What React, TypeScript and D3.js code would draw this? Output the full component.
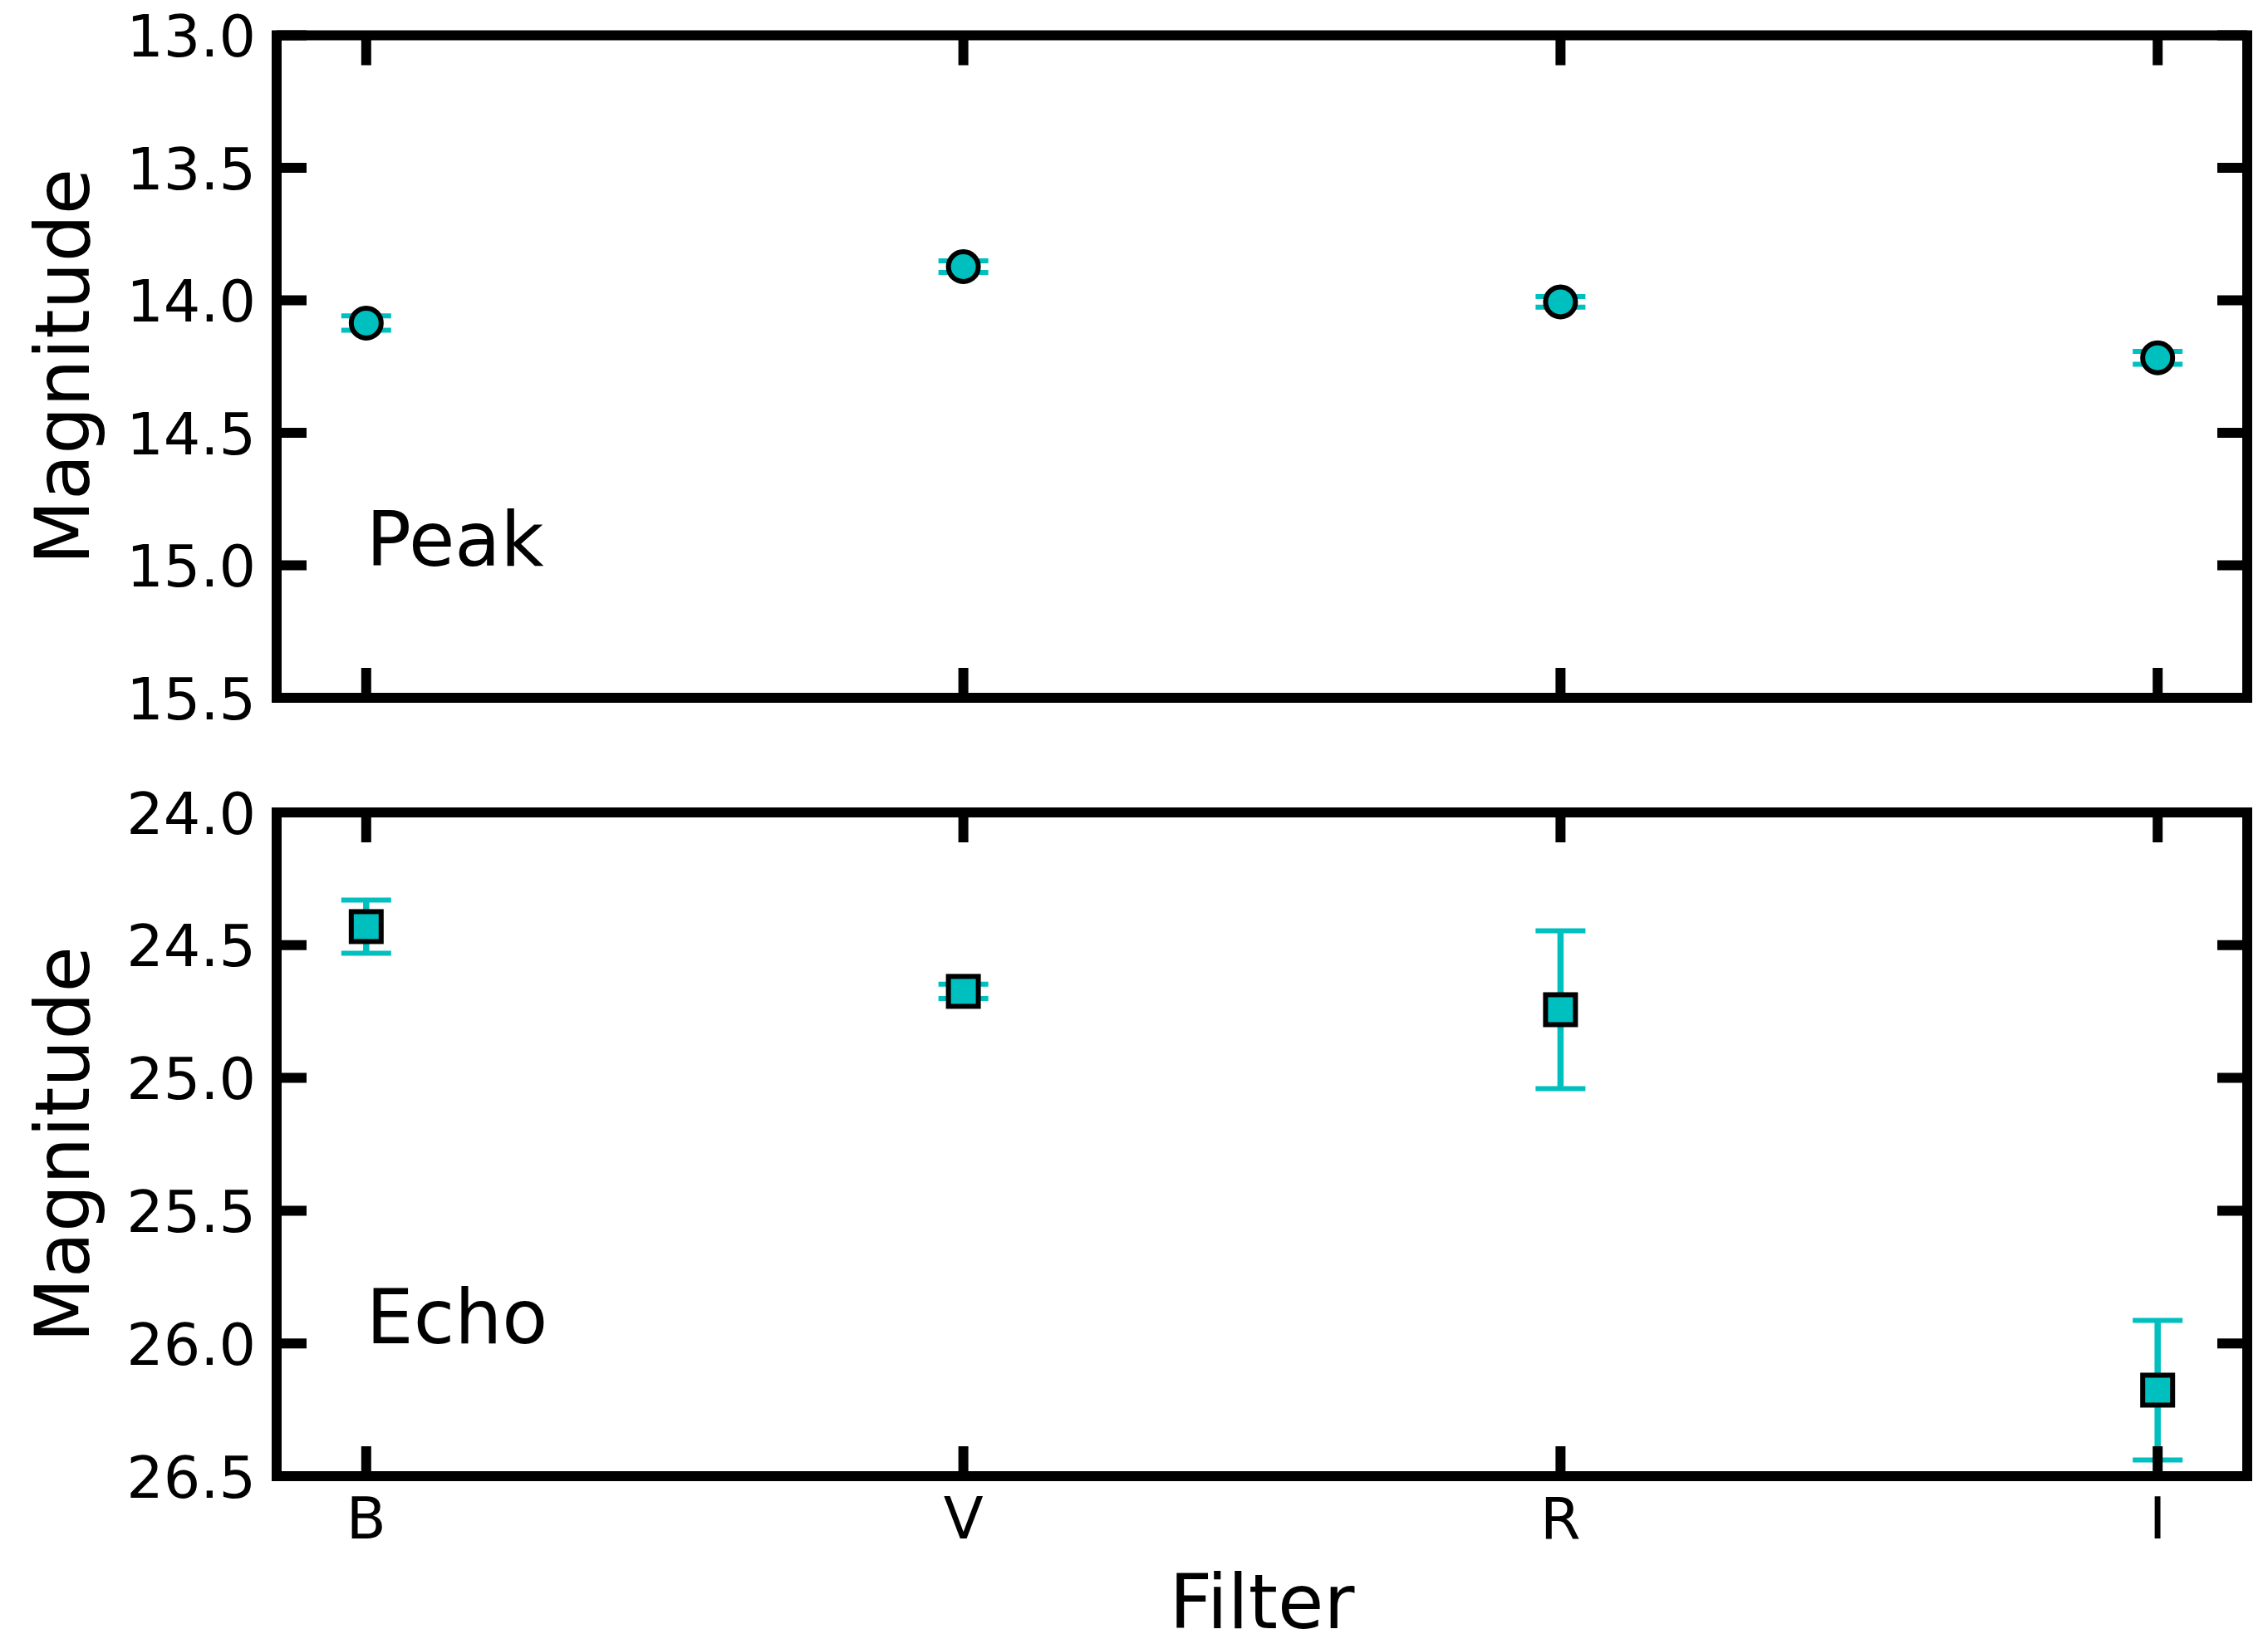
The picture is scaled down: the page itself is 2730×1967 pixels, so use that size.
import React, { useEffect, useRef } from 'react';
import * as d3 from 'd3';

// Filters along the x axis
const filters = ['B', 'V', 'R', 'I'];

// Peak magnitudes and their errors
const peakMag = [14.086, 13.873, 14.006, 14.217];
const peakErr = [0.027, 0.022, 0.02, 0.024];

// Echo magnitudes and their errors
const echoMag = [24.43, 24.674, 24.743, 26.176];
const echoErr = [0.1, 0.027, 0.297, 0.263];

// Y tick labels for both panels
const peakTicks = [13.0, 13.5, 14.0, 14.5, 15.0, 15.5];
const echoTicks = [24.0, 24.5, 25.0, 25.5, 26.0, 26.5];

const FONT = '"DejaVu Sans", Verdana, sans-serif';
const CYAN = '#00bfbf';

type Panel = {
    label: string;
    labelAt: number; // magnitude where the panel label baseline sits
    mags: number[];
    errs: number[];
    ticks: number[];
    top: number;
    bottom: number;
    marker: 'circle' | 'square';
    showXLabels: boolean;
};

const App: React.FC = () => {
    const ref = useRef<SVGSVGElement>(null);

    useEffect(() => {
        if (!ref.current) return;
        const svg = d3.select(ref.current);
        svg.selectAll('*').remove();

        const left = 333;
        const right = 2705;
        const spineW = 12;
        const tickLen = 36;

        // categorical positions 0..3, padded like matplotlib
        const x = d3.scaleLinear().domain([-0.15, 3.15]).range([left, right]);

        const panels: Panel[] = [
            { label: 'Peak', labelAt: 15.0, mags: peakMag, errs: peakErr, ticks: peakTicks, top: 42.5, bottom: 840, marker: 'circle', showXLabels: false },
            { label: 'Echo', labelAt: 26.0, mags: echoMag, errs: echoErr, ticks: echoTicks, top: 978, bottom: 1777, marker: 'square', showXLabels: true }
        ];

        panels.forEach((p) => {
            const y = d3
                .scaleLinear()
                .domain([p.ticks[0], p.ticks[p.ticks.length - 1]])
                .range([p.top, p.bottom]);
            const g = svg.append('g');

            // error bars (below the markers)
            const eb = g.append('g').attr('stroke', CYAN);
            filters.forEach((_, i) => {
                const cx = x(i);
                const y1 = y(p.mags[i] - p.errs[i]);
                const y2 = y(p.mags[i] + p.errs[i]);
                eb.append('line').attr('x1', cx).attr('x2', cx).attr('y1', y1).attr('y2', y2).attr('stroke-width', 7.5);
                [y1, y2].forEach((yy) => {
                    eb.append('line')
                        .attr('x1', cx - 30)
                        .attr('x2', cx + 30)
                        .attr('y1', yy)
                        .attr('y2', yy)
                        .attr('stroke-width', 6);
                });
            });

            // markers
            const mk = g.append('g').attr('fill', CYAN).attr('stroke', '#000').attr('stroke-width', 6);
            filters.forEach((_, i) => {
                const cx = x(i);
                const cy = y(p.mags[i]);
                if (p.marker === 'circle') {
                    mk.append('circle').attr('cx', cx).attr('cy', cy).attr('r', 18);
                } else {
                    mk.append('rect').attr('x', cx - 18).attr('y', cy - 18).attr('width', 36).attr('height', 36);
                }
            });

            // inward ticks on all four sides
            const tk = g.append('g').attr('stroke', '#000').attr('stroke-width', spineW);
            filters.forEach((_, i) => {
                const cx = x(i);
                tk.append('line').attr('x1', cx).attr('x2', cx).attr('y1', p.top).attr('y2', p.top + tickLen);
                tk.append('line').attr('x1', cx).attr('x2', cx).attr('y1', p.bottom).attr('y2', p.bottom - tickLen);
            });
            p.ticks.forEach((t) => {
                const yy = y(t);
                tk.append('line').attr('x1', left).attr('x2', left + tickLen).attr('y1', yy).attr('y2', yy);
                tk.append('line').attr('x1', right).attr('x2', right - tickLen).attr('y1', yy).attr('y2', yy);
            });

            // frame
            g.append('rect')
                .attr('x', left)
                .attr('y', p.top)
                .attr('width', right - left)
                .attr('height', p.bottom - p.top)
                .attr('fill', 'none')
                .attr('stroke', '#000')
                .attr('stroke-width', spineW);

            // y tick labels
            g.append('g')
                .attr('font-family', FONT)
                .attr('font-size', 70)
                .attr('text-anchor', 'end')
                .selectAll('text')
                .data(p.ticks)
                .join('text')
                .attr('x', 308)
                .attr('y', (d) => y(d) + 25.5)
                .text((d) => d.toFixed(1));

            // y axis title
            const midY = (p.top + p.bottom) / 2;
            g.append('text')
                .attr('font-family', FONT)
                .attr('font-size', 90)
                .attr('text-anchor', 'middle')
                .attr('transform', `translate(107,${midY}) rotate(-90)`)
                .text('Magnitude');

            // panel label
            g.append('text')
                .attr('font-family', FONT)
                .attr('font-size', 90)
                .attr('x', x(0))
                .attr('y', y(p.labelAt))
                .text(p.label);

            if (p.showXLabels) {
                g.append('g')
                    .attr('font-family', FONT)
                    .attr('font-size', 70)
                    .attr('text-anchor', 'middle')
                    .selectAll('text')
                    .data(filters)
                    .join('text')
                    .attr('x', (_, i) => x(i))
                    .attr('y', 1852)
                    .text((d) => d);
            }
        });

        // x axis title
        svg.append('text')
            .attr('font-family', FONT)
            .attr('font-size', 90)
            .attr('text-anchor', 'middle')
            .attr('x', (left + right) / 2)
            .attr('y', 1960)
            .text('Filter');
    }, []);

    return (
        <>
            <style>{`body { margin: 0; background: white; }`}</style>
            <svg ref={ref} width={2730} height={1967} style={{ display: 'block', background: 'white' }} />
        </>
    );
};

export default App;
